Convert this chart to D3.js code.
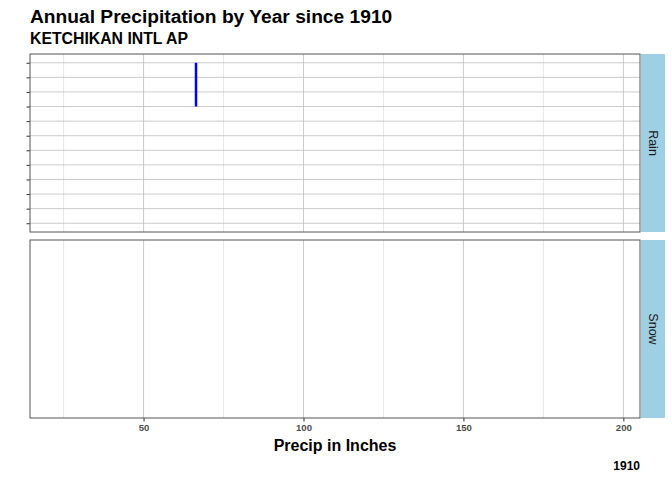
<!DOCTYPE html>
<html>
<head>
<meta charset="utf-8">
<style>
body { margin: 0; background: #fff; }
text { font-family: "Liberation Sans", Arial, sans-serif; }
.grid-major { stroke: #bebebe; stroke-width: 0.8; }
.grid-minor { stroke: #e2e2e2; stroke-width: 0.8; }
</style>
<title>Annual Precipitation</title>
</head>
<body>
<div id="chart"></div>
<script src="https://cdn.jsdelivr.net/npm/d3@7"></script>
<script>
// data (year 1910)
var panels = ["Rain", "Snow"];
var rainCats = ["1", "2", "3", "4", "5", "6", "7", "8", "9", "10", "11", "12"];
var rainValues = [66.4, 66.4, 66.4, 66.4];
var rainValueCats = ["9", "10", "11", "12"];
var xTicks = [50, 100, 150, 200];
var xMinor = [25, 75, 125, 175];
var xDomain = [14.5, 205.2];
var yearLabel = "1910";

var width = 672, height = 480;
var left = 30, right = 640, stripW = 24;
var panelTop = [54, 240], panelH = 178;

var svg = d3.select("#chart").append("svg")
    .attr("width", width)
    .attr("height", height);

var x = d3.scaleLinear().domain(xDomain).range([left, right]);

svg.append("text")
    .attr("x", left).attr("y", 23)
    .attr("font-size", 19.2).attr("font-weight", "bold")
    .text("Annual Precipitation by Year since 1910");

svg.append("text")
    .attr("x", left).attr("y", 44)
    .attr("font-size", 15.8).attr("font-weight", "bold")
    .text("KETCHIKAN INTL AP");

panels.forEach(function(p, i) {
    var top = panelTop[i];
    var g = svg.append("g");

    g.selectAll(".minor").data(xMinor).enter().append("line")
        .attr("class", "grid-minor")
        .attr("x1", x).attr("x2", x)
        .attr("y1", top).attr("y2", top + panelH);

    g.selectAll(".major").data(xTicks).enter().append("line")
        .attr("class", "grid-major")
        .attr("x1", x).attr("x2", x)
        .attr("y1", top).attr("y2", top + panelH);

    if (p == "Rain") {
        var y = d3.scalePoint().domain(rainCats)
            .range([top + panelH, top]).padding(0.6);

        g.selectAll(".ymajor").data(rainCats).enter().append("line")
            .attr("class", "grid-major")
            .attr("x1", left).attr("x2", right)
            .attr("y1", function(d) { return y(d); })
            .attr("y2", function(d) { return y(d); });

        var line = d3.line()
            .x(function(d) { return x(d[0]); })
            .y(function(d) { return y(d[1]); });

        g.append("path")
            .datum(rainValues.map(function(v, j) { return [v, rainValueCats[j]]; }))
            .attr("d", line)
            .attr("fill", "none")
            .attr("stroke", "#0000ff")
            .attr("stroke-width", 2.5);

        g.append("g")
            .attr("transform", "translate(" + left + ",0)")
            .call(d3.axisLeft(y).tickSize(3.5).tickFormat(""))
            .call(function(a) {
                a.select(".domain").remove();
                a.selectAll("line").attr("stroke", "#333").attr("stroke-width", 1);
            });
    }

    g.append("rect")
        .attr("x", left).attr("y", top)
        .attr("width", right - left).attr("height", panelH)
        .attr("fill", "none")
        .attr("stroke", "#555").attr("stroke-width", 1);

    // strip
    g.append("rect")
        .attr("x", right + 1).attr("y", top)
        .attr("width", stripW).attr("height", panelH)
        .attr("fill", "#9fcfe2");

    g.append("text")
        .attr("transform", "translate(" + (right + 1 + stripW / 2) + "," + (top + panelH / 2) + ") rotate(90)")
        .attr("text-anchor", "middle")
        .attr("dy", "0.35em")
        .attr("font-size", 12.5)
        .attr("fill", "#1a1a1a")
        .text(p);
});

// x axis under the bottom panel
var bottom = panelTop[1] + panelH;
svg.append("g")
    .attr("transform", "translate(0," + bottom + ")")
    .call(d3.axisBottom(x).tickValues(xTicks).tickSize(3.5).tickPadding(3))
    .call(function(a) {
        a.select(".domain").remove();
        a.selectAll("line").attr("stroke", "#333");
        a.selectAll("text")
            .attr("font-family", "'Liberation Sans', Arial, sans-serif")
            .attr("font-size", 9.6).attr("font-weight", "bold").attr("fill", "#4d4d4d");
    });

svg.append("text")
    .attr("x", (left + right) / 2).attr("y", 451)
    .attr("text-anchor", "middle")
    .attr("font-size", 16).attr("font-weight", "bold")
    .text("Precip in Inches");

svg.append("text")
    .attr("x", right).attr("y", 470)
    .attr("text-anchor", "end")
    .attr("font-size", 12).attr("font-weight", "bold")
    .text(yearLabel);
</script>
</body>
</html>
